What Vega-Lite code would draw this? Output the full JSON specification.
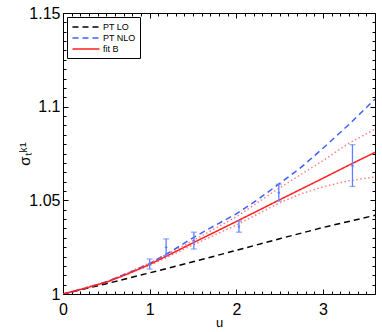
{
  "$schema": "https://vega.github.io/schema/vega-lite/v6.json",
  "autosize": "none",
  "padding": {"left": 63, "top": 13, "right": 7, "bottom": 38},
  "width": 312,
  "height": 281,
  "background": "white",
  "config": {
    "font": "Liberation Sans",
    "view": {"stroke": "black", "strokeWidth": 1},
    "axis": {"grid": false, "domain": false, "labelColor": "black", "tickColor": "black", "titleColor": "black", "labelFont": "Liberation Sans", "titleFont": "Liberation Sans", "titleFontWeight": "normal"}
  },
  "datasets": {
    "curves": [
      {"s": "PT LO", "u": 0, "v": 1}, {"s": "PT LO", "u": 0.5, "v": 1.0055}, {"s": "PT LO", "u": 1, "v": 1.0113}, {"s": "PT LO", "u": 1.5, "v": 1.0172}, {"s": "PT LO", "u": 2, "v": 1.0233}, {"s": "PT LO", "u": 2.5, "v": 1.0295}, {"s": "PT LO", "u": 3, "v": 1.0355}, {"s": "PT LO", "u": 3.6, "v": 1.042},
      {"s": "PT NLO", "u": 0, "v": 1}, {"s": "PT NLO", "u": 0.25, "v": 1.003}, {"s": "PT NLO", "u": 0.5, "v": 1.0065}, {"s": "PT NLO", "u": 0.75, "v": 1.0111}, {"s": "PT NLO", "u": 1, "v": 1.0163}, {"s": "PT NLO", "u": 1.25, "v": 1.0228}, {"s": "PT NLO", "u": 1.5, "v": 1.03}, {"s": "PT NLO", "u": 1.75, "v": 1.0365}, {"s": "PT NLO", "u": 2, "v": 1.0428}, {"s": "PT NLO", "u": 2.25, "v": 1.0505}, {"s": "PT NLO", "u": 2.5, "v": 1.059}, {"s": "PT NLO", "u": 2.75, "v": 1.0677}, {"s": "PT NLO", "u": 3, "v": 1.0778}, {"s": "PT NLO", "u": 3.3, "v": 1.0905}, {"s": "PT NLO", "u": 3.6, "v": 1.104},
      {"s": "fit B", "u": 0, "v": 1}, {"s": "fit B", "u": 0.25, "v": 1.003}, {"s": "fit B", "u": 0.5, "v": 1.0063}, {"s": "fit B", "u": 0.75, "v": 1.0108}, {"s": "fit B", "u": 1, "v": 1.0158}, {"s": "fit B", "u": 1.25, "v": 1.0215}, {"s": "fit B", "u": 1.5, "v": 1.0273}, {"s": "fit B", "u": 2, "v": 1.0387}, {"s": "fit B", "u": 2.5, "v": 1.0503}, {"s": "fit B", "u": 3, "v": 1.0618}, {"s": "fit B", "u": 3.3, "v": 1.0688}, {"s": "fit B", "u": 3.6, "v": 1.0756}
    ],
    "bands": [
      {"b": "upper", "u": 0, "v": 1}, {"b": "upper", "u": 0.5, "v": 1.0065}, {"b": "upper", "u": 1, "v": 1.0165}, {"b": "upper", "u": 1.5, "v": 1.0285}, {"b": "upper", "u": 2, "v": 1.0412}, {"b": "upper", "u": 2.5, "v": 1.0567}, {"b": "upper", "u": 3, "v": 1.0712}, {"b": "upper", "u": 3.3, "v": 1.0805}, {"b": "upper", "u": 3.6, "v": 1.088},
      {"b": "lower", "u": 0, "v": 1}, {"b": "lower", "u": 0.5, "v": 1.0062}, {"b": "lower", "u": 1, "v": 1.0152}, {"b": "lower", "u": 1.5, "v": 1.0262}, {"b": "lower", "u": 2, "v": 1.0368}, {"b": "lower", "u": 2.5, "v": 1.0487}, {"b": "lower", "u": 2.75, "v": 1.0535}, {"b": "lower", "u": 3, "v": 1.0572}, {"b": "lower", "u": 3.3, "v": 1.0605}, {"b": "lower", "u": 3.6, "v": 1.0625}
    ],
    "errs": [
      {"u": 1.0, "lo": 1.0133, "hi": 1.0187, "c": 1.016},
      {"u": 1.19, "lo": 1.0204, "hi": 1.0294, "c": 1.0249},
      {"u": 1.51, "lo": 1.024, "hi": 1.033, "c": 1.0285},
      {"u": 2.03, "lo": 1.033, "hi": 1.0389, "c": 1.036},
      {"u": 2.49, "lo": 1.0496, "hi": 1.0586, "c": 1.0541},
      {"u": 3.34, "lo": 1.0574, "hi": 1.0797, "c": 1.0685}
    ]
  },
  "resolve": {"axis": {"x": "independent", "y": "independent"}},
  "layer": [
    {
      "data": {"name": "bands"},
      "mark": {"type": "line", "color": "#ff8080", "strokeWidth": 1.5, "strokeDash": [1.5, 2.5], "clip": true},
      "encoding": {
        "x": {"field": "u", "type": "quantitative", "scale": {"domain": [0, 3.6], "nice": false, "zero": false},
          "axis": {"orient": "bottom", "title": "u", "titleFontSize": 13, "titlePadding": -3, "labelFontSize": 16, "labelPadding": 12,
            "values": [0,0.1,0.2,0.3,0.4,0.5,0.6,0.7,0.8,0.9,1,1.1,1.2,1.3,1.4,1.5,1.6,1.7,1.8,1.9,2,2.1,2.2,2.3,2.4,2.5,2.6,2.7,2.8,2.9,3,3.1,3.2,3.3,3.4,3.5],
            "labelExpr": "abs(datum.value - round(datum.value)) < 0.000001 ? format(datum.value, 'd') : ''",
            "tickSize": {"condition": {"test": "abs(datum.value - round(datum.value)) < 0.000001", "value": -5}, "value": -3},
            "labelFlush": false, "labelOverlap": false}},
        "y": {"field": "v", "type": "quantitative", "scale": {"domain": [1, 1.15], "nice": false, "zero": false},
          "axis": {"orient": "left", "title": "σₜᵏ¹", "titleFontSize": 15, "titlePadding": -4, "labelFontSize": 16, "labelPadding": 8,
            "values": [1,1.005,1.01,1.015,1.02,1.025,1.03,1.035,1.04,1.045,1.05,1.055,1.06,1.065,1.07,1.075,1.08,1.085,1.09,1.095,1.1,1.105,1.11,1.115,1.12,1.125,1.13,1.135,1.14,1.145,1.15],
            "labelExpr": "abs(datum.value*20 - round(datum.value*20)) < 0.000001 ? toString(round(datum.value*100)/100) : ''",
            "tickSize": {"condition": {"test": "abs(datum.value*20 - round(datum.value*20)) < 0.000001", "value": -5}, "value": -3},
            "labelFlush": false, "labelOverlap": false}},
        "detail": {"field": "b"}
      }
    },
    {
      "data": {"name": "curves"},
      "mark": {"type": "line", "strokeWidth": 1.5, "clip": true},
      "encoding": {
        "x": {"field": "u", "type": "quantitative",
          "axis": {"orient": "top", "title": null, "labels": false,
            "values": [0,0.1,0.2,0.3,0.4,0.5,0.6,0.7,0.8,0.9,1,1.1,1.2,1.3,1.4,1.5,1.6,1.7,1.8,1.9,2,2.1,2.2,2.3,2.4,2.5,2.6,2.7,2.8,2.9,3,3.1,3.2,3.3,3.4,3.5],
            "tickSize": {"condition": {"test": "abs(datum.value - round(datum.value)) < 0.000001", "value": -5}, "value": -3}}},
        "y": {"field": "v", "type": "quantitative",
          "axis": {"orient": "right", "title": null, "labels": false,
            "values": [1,1.005,1.01,1.015,1.02,1.025,1.03,1.035,1.04,1.045,1.05,1.055,1.06,1.065,1.07,1.075,1.08,1.085,1.09,1.095,1.1,1.105,1.11,1.115,1.12,1.125,1.13,1.135,1.14,1.145,1.15],
            "tickSize": {"condition": {"test": "abs(datum.value*20 - round(datum.value*20)) < 0.000001", "value": -5}, "value": -3}}},
        "color": {"field": "s", "type": "nominal",
          "scale": {"domain": ["PT LO", "PT NLO", "fit B"], "range": ["#000000", "#3f5fff", "#ff2020"]},
          "legend": {"orient": "top-left", "offset": 4, "title": null, "padding": 4, "strokeColor": "black", "fillColor": "white",
            "labelFontSize": 9, "labelFont": "Liberation Sans", "symbolType": "M-0.9,0H4.5", "symbolSize": 100, "symbolStrokeWidth": 1.5,
            "rowPadding": 0, "labelOffset": 20, "cornerRadius": 0}},
        "strokeDash": {"field": "s", "type": "nominal",
          "scale": {"domain": ["PT LO", "PT NLO", "fit B"], "range": [[6, 4], [6, 4], [1, 0]]},
          "legend": {"orient": "top-left", "offset": 4, "title": null, "padding": 4, "strokeColor": "black", "fillColor": "white",
            "labelFontSize": 9, "labelFont": "Liberation Sans", "symbolType": "M-0.9,0H4.5", "symbolSize": 100, "symbolStrokeWidth": 1.5,
            "rowPadding": 0, "labelOffset": 20, "cornerRadius": 0}}
      }
    },
    {
      "data": {"name": "errs"},
      "mark": {"type": "rule", "color": "#5f80ff", "strokeWidth": 1.3},
      "encoding": {
        "x": {"field": "u", "type": "quantitative", "axis": null},
        "y": {"field": "lo", "type": "quantitative", "axis": null},
        "y2": {"field": "hi"}
      }
    },
    {
      "data": {"name": "errs"},
      "mark": {"type": "tick", "color": "#5f80ff", "orient": "horizontal", "size": 6, "thickness": 1.2},
      "encoding": {
        "x": {"field": "u", "type": "quantitative", "axis": null},
        "y": {"field": "lo", "type": "quantitative", "axis": null}
      }
    },
    {
      "data": {"name": "errs"},
      "mark": {"type": "tick", "color": "#5f80ff", "orient": "horizontal", "size": 6, "thickness": 1.2},
      "encoding": {
        "x": {"field": "u", "type": "quantitative", "axis": null},
        "y": {"field": "hi", "type": "quantitative", "axis": null}
      }
    },
    {
      "data": {"name": "errs"},
      "mark": {"type": "point", "color": "#5f80ff", "filled": true, "size": 6, "opacity": 1},
      "encoding": {
        "x": {"field": "u", "type": "quantitative", "axis": null},
        "y": {"field": "c", "type": "quantitative", "axis": null}
      }
    }
  ]
}
